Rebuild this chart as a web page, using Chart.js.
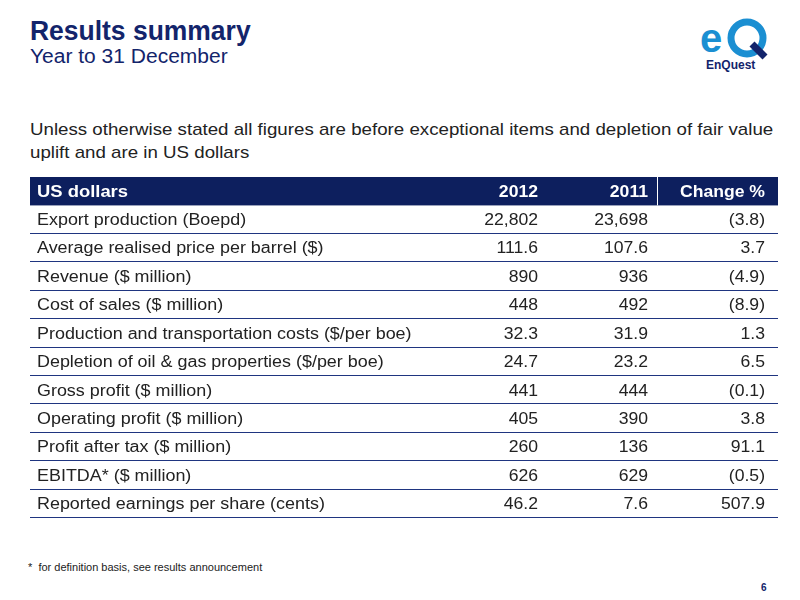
<!DOCTYPE html>
<html><head><meta charset="utf-8">
<script src="https://cdn.jsdelivr.net/npm/chart.js@4"></script>
<style>
body{margin:0;width:800px;height:600px;background:#fff;font-family:"Liberation Sans",Arial,sans-serif;position:relative;overflow:hidden}
#t1{position:absolute;left:30px;top:16px;font-size:27px;font-weight:bold;color:#13246b;transform-origin:0 0;transform:scaleX(0.98)}
#t2{position:absolute;left:30px;top:45px;font-size:20px;color:#13246b;transform-origin:0 0;transform:scaleX(1.05)}
#intro{position:absolute;left:30px;top:118px;font-size:17px;line-height:23px;color:#222;width:685px;transform-origin:0 0;transform:scaleX(1.1)}
#foot{position:absolute;left:28px;top:561px;font-size:11px;color:#222}
#pg{position:absolute;left:761px;top:582px;font-size:10px;font-weight:bold;color:#13246b}
#logo{position:absolute;left:700px;top:16px;width:72px;height:56px}
#wrap{position:absolute;left:30px;top:177px;width:748px;height:341px}
</style></head><body>
<div id="t1">Results summary</div>
<div id="t2">Year to 31 December</div>
<svg id="logo" viewBox="0 0 72 56">
<text x="0" y="36" font-family="Liberation Sans" font-weight="bold" font-size="40" fill="#1b8fd2">e</text>
<circle cx="47" cy="22" r="16" fill="none" stroke="#1b8fd2" stroke-width="7"/>
<line x1="52" y1="28" x2="65" y2="41" stroke="#13246b" stroke-width="7"/>
<text x="6" y="53" font-family="Liberation Sans" font-weight="bold" font-size="12" fill="#13246b">EnQuest</text>
</svg>
<div id="intro">Unless otherwise stated all figures are before exceptional items and depletion of fair value uplift and are in US dollars</div>
<div id="wrap"><canvas id="c"></canvas></div>
<div id="foot">*&nbsp; for definition basis, see results announcement</div>
<div id="pg">6</div>
<script>
const headers = ["US dollars","2012","2011","Change %"];
const rowLabels = ["Export production (Boepd)","Average realised price per barrel ($)","Revenue ($ million)","Cost of sales ($ million)","Production and transportation costs ($/per boe)","Depletion of oil & gas properties ($/per boe)","Gross profit ($ million)","Operating profit ($ million)","Profit after tax ($ million)","EBITDA* ($ million)","Reported earnings per share (cents)"];
const values2012 = ["22,802","111.6","890","448","32.3","24.7","441","405","260","626","46.2"];
const values2011 = ["23,698","107.6","936","492","31.9","23.2","444","390","136","629","7.6"];
const changePct = ["(3.8)","3.7","(4.9)","(8.9)","1.3","6.5","(0.1)","3.8","91.1","(0.5)","507.9"];

const yLabels = ["header"].concat(rowLabels);
const colRight = [0, 508/748, 618/748, 735/748];
function stretchText(ctx,t,x,y,sx,align){
  ctx.save();ctx.translate(x,y);ctx.scale(sx,1);ctx.textAlign=align;ctx.fillText(t,0,0);ctx.restore();
}
const tablePlugin = {
  id:"tbl",
  afterDraw(chart){
    const ctx=chart.ctx, y=chart.scales.y, a=chart.chartArea;
    const W=a.right-a.left;
    const h=y.getPixelForValue(1)-y.getPixelForValue(0);
    ctx.save();
    const hy=y.getPixelForValue(0);
    ctx.fillStyle="#0d1f5e";
    ctx.fillRect(a.left,hy-h/2,W,h);
    ctx.strokeStyle="#ffffff";ctx.lineWidth=1;
    ctx.beginPath();ctx.moveTo(a.left+W*627/748+0.5,hy-h/2);ctx.lineTo(a.left+W*627/748+0.5,hy+h/2);ctx.stroke();
    ctx.textBaseline="middle";
    ctx.font="bold 16px 'Liberation Sans', Arial, sans-serif";
    ctx.fillStyle="#fff";
    headers.forEach((t,i)=>{
      if(i===0) stretchText(ctx,t,a.left+7,hy+1,1.15,"left");
      else stretchText(ctx,t,a.left+W*colRight[i],hy+1,1.1,"right");
    });
    ctx.font="16px 'Liberation Sans', Arial, sans-serif";
    rowLabels.forEach((lab,r)=>{
      const cy=y.getPixelForValue(r+1);
      ctx.fillStyle="#222";
      stretchText(ctx,lab,a.left+7,cy+1,1.12,"left");
      stretchText(ctx,values2012[r],a.left+W*colRight[1],cy+1,1.1,"right");
      stretchText(ctx,values2011[r],a.left+W*colRight[2],cy+1,1.1,"right");
      stretchText(ctx,changePct[r],a.left+W*colRight[3],cy+1,1.1,"right");
      ctx.strokeStyle="#1f3580";ctx.lineWidth=1;
      ctx.beginPath();ctx.moveTo(a.left,Math.round(cy+h/2)-0.5);ctx.lineTo(a.right,Math.round(cy+h/2)-0.5);ctx.stroke();
    });
    ctx.restore();
  }
};
new Chart(document.getElementById("c"),{
  type:"scatter",
  data:{labels:yLabels,datasets:[{data:yLabels.map(l=>({x:0,y:l})),pointRadius:0}]},
  options:{responsive:true,maintainAspectRatio:false,animation:false,
    layout:{padding:0},
    plugins:{legend:{display:false},tooltip:{enabled:false}},
    scales:{x:{type:"linear",min:0,max:1,display:false},
            y:{type:"category",labels:yLabels,offset:true,display:false}}},
  plugins:[tablePlugin]
});
</script>
</body></html>
